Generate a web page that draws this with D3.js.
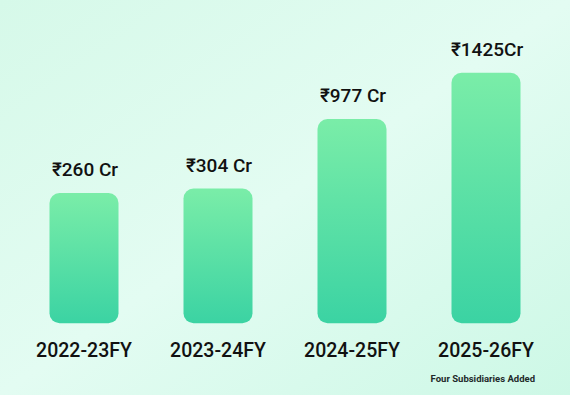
<!DOCTYPE html>
<html>
<head>
<meta charset="utf-8">
<script src="https://cdn.jsdelivr.net/npm/d3@7/dist/d3.min.js"></script>
<style>
  html, body { margin: 0; padding: 0; }
  body { width: 570px; height: 395px; overflow: hidden; }
</style>
</head>
<body>
<svg id="chart" width="570" height="395"></svg>
<script>
const categories = ["2022-23FY", "2023-24FY", "2024-25FY", "2025-26FY"];
const values = [260, 304, 977, 1425];
const valueLabels = ["₹260 Cr", "₹304 Cr", "₹977 Cr", "₹1425Cr"];
const footnote = "Four Subsidiaries Added";

const svg = d3.select("#chart");
const W = 570, H = 395;
const defs = svg.append("defs");

const bg = defs.append("linearGradient").attr("id", "bg")
  .attr("x1", "0%").attr("y1", "0%").attr("x2", "100%").attr("y2", "100%");
bg.append("stop").attr("offset", "0%").attr("stop-color", "#d6f9e9");
bg.append("stop").attr("offset", "50%").attr("stop-color", "#e3fcf2");
bg.append("stop").attr("offset", "100%").attr("stop-color", "#cdf8e6");

const barGrad = defs.append("linearGradient").attr("id", "barGrad")
  .attr("x1", "0").attr("y1", "0").attr("x2", "0").attr("y2", "1");
barGrad.append("stop").attr("offset", "0%").attr("stop-color", "#7aeda8");
barGrad.append("stop").attr("offset", "100%").attr("stop-color", "#3bd3a3");

svg.append("rect").attr("width", W).attr("height", H).attr("fill", "url(#bg)");

const base = -1000;
const x = d3.scalePoint().domain(categories).range([84, 486]);
const y = d3.scaleLinear().domain([base, 1425]).range([323.3, 72.7]);
const barW = 69;

const data = categories.map((c, i) => ({ c, v: values[i], label: valueLabels[i] }));

svg.selectAll("rect.bar").data(data).enter().append("rect")
  .attr("class", "bar")
  .attr("x", d => x(d.c) - barW / 2)
  .attr("y", d => y(d.v))
  .attr("width", barW)
  .attr("height", d => y(base) - y(d.v))
  .attr("rx", 10).attr("ry", 10)
  .attr("fill", "url(#barGrad)");

svg.selectAll("text.val").data(data).enter().append("text")
  .attr("class", "val")
  .attr("x", d => x(d.c) + 1)
  .attr("y", d => y(d.v) - 17)
  .attr("text-anchor", "middle")
  .attr("font-family", "Roboto, sans-serif")
  .attr("font-weight", 500)
  .attr("font-size", 19)
  .attr("fill", "#111")
  .text(d => d.label);

svg.selectAll("text.cat").data(data).enter().append("text")
  .attr("class", "cat")
  .attr("x", d => x(d.c))
  .attr("y", 357)
  .attr("text-anchor", "middle")
  .attr("font-family", "Roboto, sans-serif")
  .attr("font-weight", 500)
  .attr("font-size", 19.5)
  .attr("fill", "#111")
  .text(d => d.c);

svg.append("text")
  .attr("x", 535).attr("y", 382)
  .attr("text-anchor", "end")
  .attr("font-family", "Roboto, sans-serif")
  .attr("font-weight", 700)
  .attr("font-size", 9.5)
  .attr("fill", "#1e2a2a")
  .text(footnote);
</script>
</body>
</html>
